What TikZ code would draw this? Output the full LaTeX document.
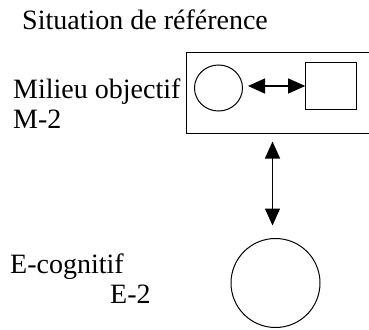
\documentclass[tikz,border=0pt]{standalone}
\usepackage{fontspec}
\setmainfont{Liberation Serif}
\usetikzlibrary{arrows.meta,shapes.geometric}
\begin{document}
\begin{tikzpicture}[x=1pt,y=-1pt,
  lbl/.style={anchor=base west,inner sep=0pt,font=\fontsize{28}{30}\selectfont},
  shp/.style={draw,line width=1pt,inner sep=0pt},
  dbl/.style={line width=1.2pt,{Triangle[length=17pt,width=15pt]}-{Triangle[length=17pt,width=15pt]}}]
\useasboundingbox (0,0) rectangle (369,329);
\node[lbl] (title) at (22,30) {Situation de référence};
\node[lbl] (mo) at (13,98) {Milieu objectif};
\node[lbl] (m2) at (13,128) {M-2};
\node[lbl] (ec) at (10,273) {E-cognitif};
\node[lbl] (e2) at (110,303) {E-2};
\node[shp,rectangle,minimum width=185.3pt,minimum height=80.3pt] (box) at (279.35,92.85) {};
\node[shp,ellipse,minimum width=48pt,minimum height=46pt] (c1) at (218.5,88) {};
\node[shp,rectangle,minimum width=51pt,minimum height=46.5pt] (sq) at (331.2,86) {};
\node[shp,circle,minimum size=89pt] (c2) at (275.5,283) {};
\draw[dbl,shorten <=5pt] (c1.east |- sq.west) -- (sq.west);
\draw[dbl,shorten <=8pt,shorten >=12.5pt] ([xshift=-3pt]c2.north |- box.south) -- ([xshift=-3pt]c2.north);
\end{tikzpicture}
\end{document}
